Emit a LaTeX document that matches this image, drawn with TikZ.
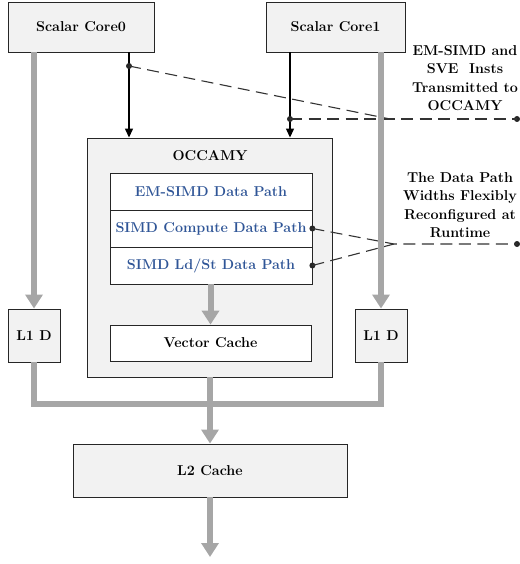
\documentclass[tikz,border=0pt]{standalone}
\usetikzlibrary{arrows.meta}
\definecolor{boxfill}{HTML}{F2F2F2}
\definecolor{busgray}{HTML}{A6A6A6}
\definecolor{pathblue}{HTML}{2F5597}
\begin{document}
\begin{tikzpicture}[x=1pt,y=-1pt,
  font=\fontsize{14.3}{17}\selectfont\bfseries,
  box/.style={draw=black!85, line width=0.9pt, fill=boxfill, inner sep=0pt, align=center},
  wbox/.style={draw=black!85, line width=0.8pt, fill=white, inner sep=0pt, align=center},
  dpath/.style={wbox, text=pathblue, minimum width=202, minimum height=37},
  bus/.style={draw=busgray, line width=6pt},
  busarrow/.style={bus, -{Triangle[length=14pt,width=17pt]}},
  ctrl/.style={draw=black, line width=1.3pt, -{Triangle[length=9pt,width=8pt]}},
  dashline/.style={draw=black!80, line width=1.1pt, dash pattern=on 12pt off 6.5pt},
  dot/.style={circle, fill=black!85, inner sep=0pt, minimum size=6pt},
  note/.style={align=center, font=\fontsize{14.3}{18.5}\selectfont\bfseries}]
\useasboundingbox (0,0) rectangle (519,564);

% scalar cores
\node[box, minimum width=146, minimum height=50] (c0) at (81,27) {Scalar Core0};
\node[box, minimum width=139, minimum height=50] (c1) at (335.5,27) {Scalar Core1};

% OCCAMY vector unit
\node[box, minimum width=245, minimum height=239] (occ) at (209.5,257.5) {};
\node (occlabel) at (210,156) {OCCAMY};
\node[dpath] (em) at (211,191.5) {EM-SIMD Data Path};
\node[dpath] (cmp) at (211,228.5) {SIMD Compute Data Path};
\node[dpath] (ld) at (211,265.5) {SIMD Ld/St Data Path};
\node[wbox, minimum width=201, minimum height=36] (vc) at (210.5,343) {Vector Cache};

% private L1 data caches and shared L2
\node[box, minimum width=52, minimum height=53] (l1a) at (34,335.5) {L1 D};
\node[box, minimum width=52, minimum height=53] (l1b) at (381,335.5) {L1 D};
\node[box, minimum width=274, minimum height=53] (l2) at (210,470.5) {L2 Cache};

% instruction dispatch from the cores
\coordinate (p0) at (129,66);
\coordinate (p1) at (290,119);
\draw[ctrl] (c0.south -| p0) -- (p0 |- occ.north);
\draw[ctrl] (c1.south -| p1) -- (p1 |- occ.north);

% annotation leaders
\coordinate (m1) at (390,119);
\node[dot] (e1) at (517,119) {};
\node[dot] (d0) at (p0) {};
\node[dot] (d1) at (p1) {};
\draw[dashline] (d0.center) -- (m1);
\draw[dashline] (d1.center) -- (e1.center);

\coordinate (m2) at (394,244);
\node[dot] (e2) at (517,244) {};
\node[dot] (dc) at (cmp.east) {};
\node[dot] (dl) at (ld.east) {};
\draw[dashline] (dc.center) -- (m2) -- (e2.center);
\draw[dashline] (dl.center) -- (m2);

% memory-side buses
\draw[busarrow] (l1a.north |- c0.south) -- (l1a.north);
\draw[busarrow] (l1b.north |- c1.south) -- (l1b.north);
\draw[busarrow] (ld.south -| vc.north) -- (vc.north);
\coordinate (busl) at (34,404);
\coordinate (busr) at (381,404);
\draw[bus, line join=miter] (l1a.south) -- (busl) -- (busr) -- (l1b.south);
\draw[busarrow] (occ.south -| l2.north) -- (l2.north);
\coordinate (out) at (210,557);
\draw[busarrow] (l2.south) -- (out);

% annotation texts
\node[note] (t1) at (465,78) {EM-SIMD and\\SVE\ \ Insts\\Transmitted to\\OCCAMY};
\node[note] (t2) at (460,205) {The Data Path\\Widths Flexibly\\Reconfigured at\\Runtime};
\end{tikzpicture}
\end{document}
